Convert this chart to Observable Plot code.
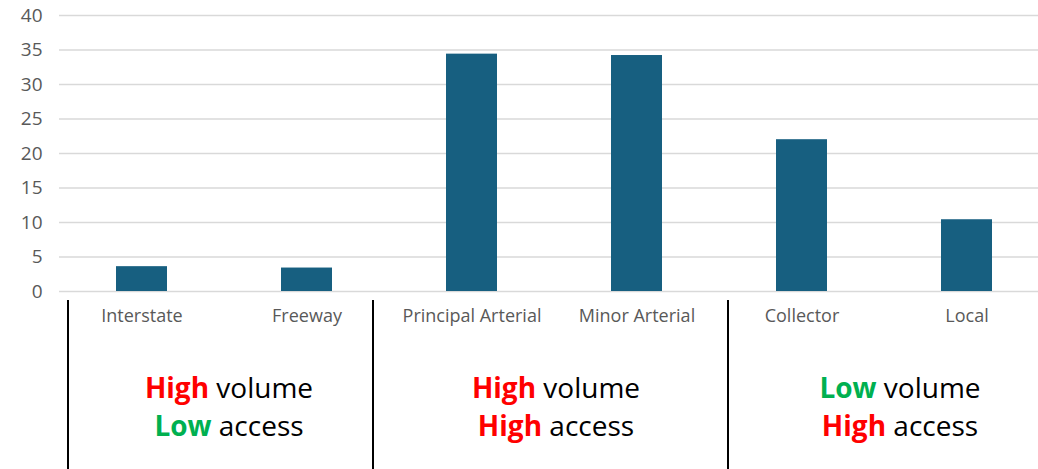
<!DOCTYPE html>
<html>
<head>
<meta charset="utf-8">
<script src="https://cdn.jsdelivr.net/npm/d3@7"></script>
<script src="https://cdn.jsdelivr.net/npm/@observablehq/plot@0.6"></script>
<style>
  html, body { margin: 0; padding: 0; background: #fff; }
  #wrap { position: relative; width: 1038px; height: 469px; overflow: hidden; font-family: "Open Sans", "Noto Sans", sans-serif; }
  #chart svg { display: block; }
  .vline { position: absolute; top: 300px; bottom: 0; width: 2px; background: #000; }
  .note { position: absolute; top: 368px; width: 320px; text-align: center; font-size: 28px; line-height: 38px; color: #000; }
  .note b { font-weight: 700; }
</style>
</head>
<body>
<div id="wrap">
  <div id="chart"></div>
</div>
<script>
const categories = ["Interstate", "Freeway", "Principal Arterial", "Minor Arterial", "Collector", "Local"];
const values = [3.6, 3.4, 34.4, 34.2, 22.0, 10.4];
const yTicks = [0, 5, 10, 15, 20, 25, 30, 35, 40];

const groupVolume = ["High", "High", "Low"];
const groupAccess = ["Low", "High", "High"];

const levelColor = {High: "#ff0000", Low: "#00b050"};

const data = categories.map((c, i) => ({category: c, value: values[i]}));

const chart = Plot.plot({
  width: 1038,
  height: 335,
  marginTop: 15,
  marginBottom: 44,
  marginLeft: 59,
  marginRight: 0,
  style: {fontFamily: "'Open Sans', 'Noto Sans', sans-serif", fontSize: "18px", color: "#595959", background: "#fff"},
  x: {type: "band", domain: categories, range: [59, 1049], paddingInner: 0.69, paddingOuter: 0.345, label: null},
  y: {domain: [0, 40], label: null},
  marks: [
    Plot.ruleY(yTicks, {stroke: "#d9d9d9", strokeWidth: 1.5}),
    Plot.barY(data, {x: "category", y: "value", fill: "#175f80"}),
    Plot.axisY({ticks: yTicks, tickSize: 0, tickPadding: 17, fill: "#595959", fontSize: 19}),
    Plot.axisX({tickSize: 0, tickPadding: 18, fill: "#595959", fontSize: 18})
  ]
});
document.getElementById("chart").appendChild(chart);

const wrap = document.getElementById("wrap");
const linePositions = [68, 373, 728];
const noteCenters = [229, 556, 900];
linePositions.forEach(x => {
  const d = document.createElement("div");
  d.className = "vline";
  d.style.left = (x - 1) + "px";
  wrap.appendChild(d);
});
noteCenters.forEach((cx, i) => {
  const d = document.createElement("div");
  d.className = "note";
  d.style.left = (cx - 160) + "px";
  const v = groupVolume[i], a = groupAccess[i];
  d.innerHTML = `<div><b style="color:${levelColor[v]}">${v}</b> volume</div><div><b style="color:${levelColor[a]}">${a}</b> access</div>`;
  wrap.appendChild(d);
});
</script>
</body>
</html>
